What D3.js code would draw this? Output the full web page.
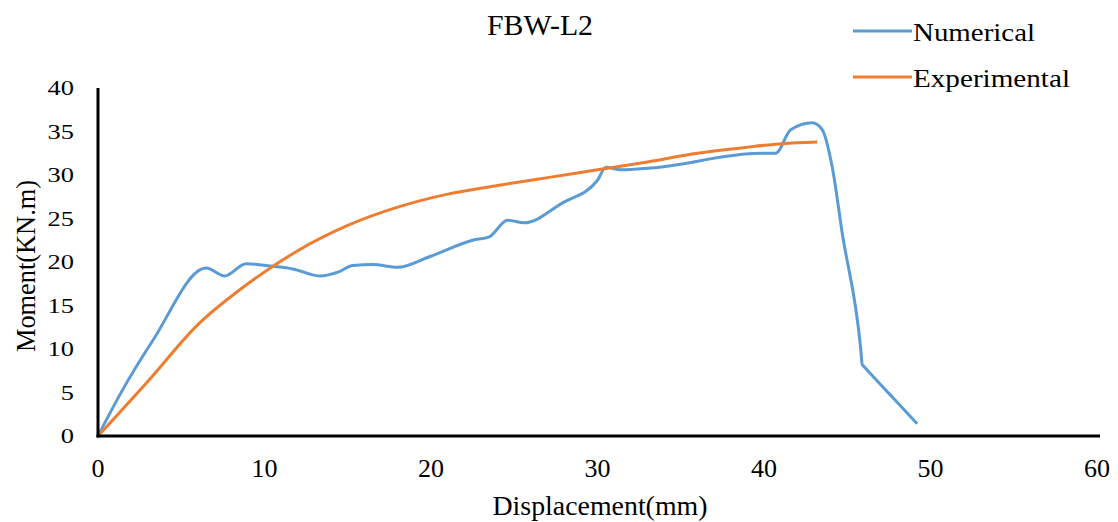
<!DOCTYPE html>
<html>
<head>
<meta charset="utf-8">
<script src="https://cdn.jsdelivr.net/npm/d3@7"></script>
<style>
  body { margin: 0; background: #fff; }
  text { font-family: "Liberation Serif", "Times New Roman", serif; fill: #000; }
</style>
</head>
<body>
<div id="chart"></div>
<script>
var numX = [0, 1.3, 3.3, 6.5, 7.6, 8.9, 10.5, 11.7, 13.3, 14.5, 15.3, 16.5, 18.0, 19.9, 22.5, 23.5, 24.6, 25.6, 27.9, 30.0, 30.5, 31.4, 33.2, 39.8, 40.7, 41.6, 42.9, 43.5, 44.1, 44.7, 45.8, 45.9, 46.0, 47.5, 48.4, 49.2];
var numY = [0, 4.7, 11.0, 19.3, 18.4, 19.8, 19.5, 19.2, 18.4, 18.9, 19.6, 19.7, 19.4, 20.6, 22.5, 22.9, 24.8, 24.5, 26.8, 29.4, 30.9, 30.6, 30.8, 32.5, 32.5, 35.2, 36.0, 35.2, 30.9, 23.3, 10.2, 8.2, 7.99, 4.9, 3.05, 1.4];
var expX = [0, 3, 6, 9, 12, 15, 18, 21, 24, 27, 30, 33, 36, 39, 41.1, 43.2];
var expY = [0, 6.3, 12.8, 17.5, 21.3, 24.2, 26.3, 27.8, 28.8, 29.7, 30.6, 31.5, 32.5, 33.2, 33.6, 33.8];
var xTicks = [0, 10, 20, 30, 40, 50, 60];
var yTicks = [0, 5, 10, 15, 20, 25, 30, 35, 40];
var seriesNames = ["Numerical", "Experimental"];
var seriesColors = ["#5B9BD5", "#ED7D31"];

var width = 1118, height = 522;
var svg = d3.select("#chart").append("svg")
  .attr("width", width)
  .attr("height", height);

var x = d3.scaleLinear().domain([0, 60]).range([98, 1097]);
var y = d3.scaleLinear().domain([0, 40]).range([436, 88]);

// tick labels
svg.selectAll(".ytick").data(yTicks).enter().append("text")
  .attr("transform", function(d) { return "translate(74," + (y(d) + 7) + ") scale(1.2,1)"; })
  .attr("text-anchor", "end")
  .style("font-size", "22px")
  .text(function(d) { return d; });

svg.selectAll(".xtick").data(xTicks).enter().append("text")
  .attr("x", function(d) { return x(d); })
  .attr("y", 477)
  .attr("text-anchor", "middle")
  .style("font-size", "26px")
  .text(function(d) { return d; });

// lines
var line = d3.line()
  .x(function(d) { return x(d[0]); })
  .y(function(d) { return y(d[1]); })
  .curve(d3.curveMonotoneX);

var numData = d3.zip(numX, numY);
var expData = d3.zip(expX, expY);

svg.append("path")
  .datum(numData)
  .attr("d", line)
  .style("fill", "none")
  .style("stroke", seriesColors[0])
  .style("stroke-width", 3);

svg.append("path")
  .datum(expData)
  .attr("d", line)
  .style("fill", "none")
  .style("stroke", seriesColors[1])
  .style("stroke-width", 3);

// axes lines
svg.append("line")
  .attr("x1", x(0)).attr("x2", x(0))
  .attr("y1", y(40)).attr("y2", y(0) + 1.5)
  .style("stroke", "#000").style("stroke-width", 3);
svg.append("line")
  .attr("x1", x(0) - 1.5).attr("x2", x(60) + 3)
  .attr("y1", y(0)).attr("y2", y(0))
  .style("stroke", "#000").style("stroke-width", 3);

// titles
svg.append("text")
  .attr("x", 540)
  .attr("y", 35)
  .attr("text-anchor", "middle")
  .style("font-size", "29px")
  .attr("textLength", 106)
  .attr("lengthAdjust", "spacingAndGlyphs")
  .text("FBW-L2");

svg.append("text")
  .attr("x", 600)
  .attr("y", 515)
  .attr("text-anchor", "middle")
  .style("font-size", "27px")
  .attr("textLength", 215)
  .attr("lengthAdjust", "spacingAndGlyphs")
  .text("Displacement(mm)");

svg.append("text")
  .attr("transform", "translate(35,266) rotate(-90)")
  .attr("text-anchor", "middle")
  .style("font-size", "27px")
  .attr("textLength", 172)
  .attr("lengthAdjust", "spacingAndGlyphs")
  .text("Moment(KN.m)");

// legend
var legendWidths = [122, 157];
seriesNames.forEach(function(name, i) {
  var ly = 31 + i * 46;
  svg.append("line")
    .attr("x1", 853).attr("x2", 912)
    .attr("y1", ly).attr("y2", ly)
    .style("stroke", seriesColors[i])
    .style("stroke-width", 3);
  svg.append("text")
    .attr("x", 913)
    .attr("y", ly + 10)
    .style("font-size", "26px")
    .attr("textLength", legendWidths[i])
    .attr("lengthAdjust", "spacingAndGlyphs")
    .text(name);
});
</script>
</body>
</html>
